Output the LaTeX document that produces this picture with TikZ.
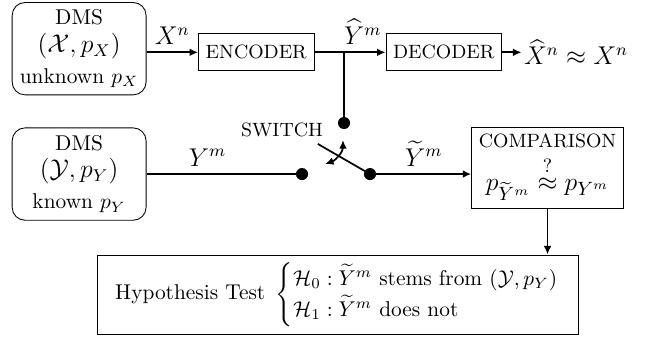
\documentclass[tikz,border=0pt]{standalone}
\usepackage{amsmath}
\usepackage{amssymb}
\usepackage{tikz}
\usetikzlibrary{positioning, arrows.meta, calc}

\begin{document}
\begin{tikzpicture}[source/.style={draw, rounded corners=6pt, align=center, minimum width=2.2cm, minimum height=1.5cm},
    block/.style={draw, font=\small, minimum width=1.86cm, minimum height=0.61cm},
    dot/.style={fill, circle, inner sep=2pt},
    conn/.style={thick},
    arrow/.style={thick, -{Latex[length=4pt, width=3.6pt]}}]
    \useasboundingbox (0,0) rectangle (10.63,-5.537);
    \node[source] (dmsx) at (1.3,-0.8) {DMS\\[1pt] {\large $(\mathcal{X},p_X)$}\\[2.5pt] unknown $p_X$};
    \node[source] (dmsy) at (1.3,-2.86) {DMS\\[1pt] {\large $(\mathcal{Y},p_Y)$}\\[2.5pt] known $p_Y$};
    \node[block] (enc) at (4.21,-0.86) {ENCODER};
    \node[block] (dec) [right=1.17cm of enc] {DECODER};
    \node (out) [right=0.32cm of dec, inner sep=1pt] {\large $\widehat{X}^n \approx X^n$};
    \node[dot] (swtop) at (5.652,-2.021) {};
    \node[dot] (swl) at (4.962,-2.86) {};
    \node[dot] (swr) at (6.079,-2.86) {};
    \node[font=\small] (swlabel) at (4.633,-2.136) {SWITCH};
    \node[draw, align=center] (comp) at (8.996,-2.752)
        {{\small COMPARISON}\\[3pt] {\fontsize{13}{15}\selectfont $p_{\widetilde{Y}^m} \overset{?}{\approx} p_{Y^m}$}};
    \node[draw, minimum width=7.9cm, minimum height=1.3cm] (hyp) at (5.545,-4.839)
        {\renewcommand{\arraystretch}{1.2}Hypothesis Test\enspace $\left\{\begin{array}{@{}l@{}} \mathcal{H}_0 : \widetilde{Y}^m \text{ stems from } (\mathcal{Y},p_Y)\\ \mathcal{H}_1 : \widetilde{Y}^m \text{ does not} \end{array}\right.$};
    \coordinate (jn) at (enc -| swtop);
    \draw[arrow] (dmsx.east |- enc) -- node[above] {\large $X^n$} (enc);
    \draw[arrow] (enc) -- node[above, pos=0.68] {\large $\widehat{Y}^m$} (dec);
    \draw[arrow] (dec) -- (out);
    \draw[conn] (jn) -- (swtop);
    \draw[conn] (dmsy) -- node[above, pos=0.41] {\large $Y^m$} (swl);
    \draw[conn] (swr.center) -- ++(150:0.99);
    \draw[thick, {Latex[length=4pt, width=3.6pt]}-{Latex[length=4pt, width=3.6pt]}] ($(swr)+(-0.444,0.559)$) to[out=-90, in=20] ($(swr)+(-0.739,0.164)$);
    \draw[arrow] (swr) -- node[above] {\large $\widetilde{Y}^m$} (swr -| comp.west);
    \draw[arrow] (comp) -- (comp.south |- hyp.north);
\end{tikzpicture}
\end{document}
